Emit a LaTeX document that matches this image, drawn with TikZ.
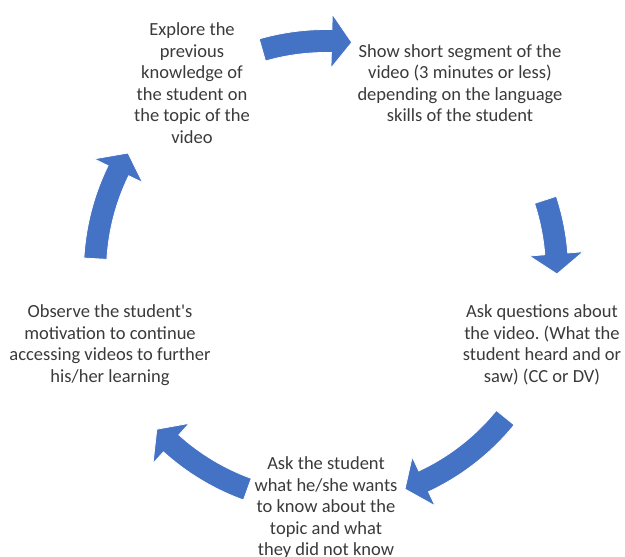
\documentclass[tikz,border=0pt]{standalone}
\usepackage{fontspec}
\setmainfont{Carlito}
\usepackage{tikz}
\usetikzlibrary{positioning, calc}
\definecolor{myblue}{HTML}{4472C4}
\definecolor{mygray}{HTML}{3A3A3A}
\frenchspacing
\tikzset{
	stepnode/.style={
			align=center,
			inner sep=0pt,
			text=mygray,
			font=\fontsize{18.5}{21.5}\selectfont
		},
	cyclearrow/.style={
			fill=myblue,
			draw=white,
			line width=0.8pt,
			line join=miter
		}
}
% curved block arrow on the cycle: #1 = tail angle, #2 = tip angle (clockwise)
\newcommand{\cyclearrow}[2]{%
	\pgfmathsetmacro{\headangle}{#2+5}
	\path[cyclearrow] (#1:242.5) arc[start angle=#1, end angle=\headangle, radius=242.5]
		-- (\headangle:258) -- (#2:231) -- (\headangle:204) -- (\headangle:219.5)
		arc[start angle=\headangle, end angle=#1, radius=219.5] -- cycle;
}

\begin{document}
\begin{tikzpicture}[x=1pt, y=1pt]
\useasboundingbox (0,0) rectangle (625,557);
\coordinate (c) at (326,285);

\node[stepnode] (n1) at (192,474) {Explore the\\previous\\knowledge of\\the student on\\the topic of the\\video};
\node[stepnode] (n2) at (460,474) {Show short segment of the\\video (3 minutes or less)\\depending on the language\\skills of the student};
\node[stepnode] (n3) at (542,212) {Ask questions about\\the video. (What the\\student heard and or\\saw) (CC or DV)};
\node[stepnode] (n4) at (326,49) {Ask the student\\what he/she wants\\to know about the\\topic and what\\they did not know};
\node[stepnode] (n5) at (110,212) {Observe the student\textquotesingle s\\motivation to continue\\accessing videos to further\\his/her learning};

\begin{scope}[shift={(c)}]
\cyclearrow{106}{83.6}
\cyclearrow{18.2}{-0.5}
\cyclearrow{-39.1}{-70}
\cyclearrow{-109.9}{-137.1}
\cyclearrow{176.7}{149}
\end{scope}
\end{tikzpicture}
\end{document}
